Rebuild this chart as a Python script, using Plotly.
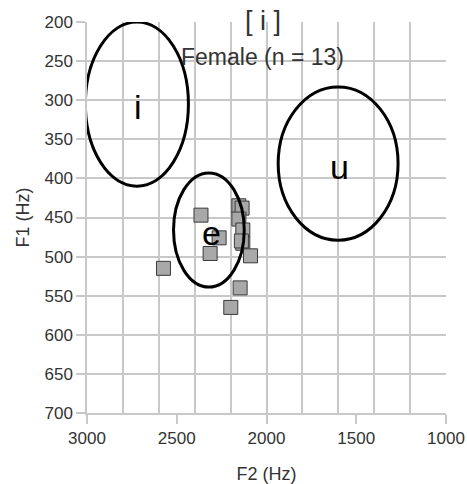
import plotly.graph_objects as go

# Measured formants for the [i] tokens (female speakers)
f2_hz = [2365, 2154, 2136, 2154, 2132, 2132, 2089, 2264, 2314, 2574, 2147, 2199, 2140]
f1_hz = [447, 435, 438, 452, 466, 483, 499, 476, 496, 515, 540, 565, 480]

# Reference vowel regions: centre (F2, F1) and half-widths
vowels = ["i", "e", "u"]
vowel_f2 = [2722, 2321, 1601]
vowel_f1 = [305, 466, 381]
vowel_rf2 = [287, 197, 334]
vowel_rf1 = [105, 73, 98]
label_f2 = [2714, 2304, 1596]
label_f1 = [309, 470, 386]

FONT = "Liberation Sans, Arial, sans-serif"
GRID = "#c8c8c8"
TXT = "#333333"

fig = go.Figure()
fig.add_trace(go.Scatter(
    x=f2_hz, y=f1_hz, mode="markers",
    marker=dict(symbol="square", size=14, color="#a8a8a8",
                line=dict(color="#3a3a3a", width=1)),
    showlegend=False, hoverinfo="x+y",
))

shapes = []
for cx, cy, rx, ry in zip(vowel_f2, vowel_f1, vowel_rf2, vowel_rf1):
    shapes.append(dict(type="circle", xref="x", yref="y",
                       x0=cx - rx, x1=cx + rx, y0=cy - ry, y1=cy + ry,
                       line=dict(color="black", width=3), layer="above"))

annotations = []
for v, lx, ly in zip(vowels, label_f2, label_f1):
    annotations.append(dict(x=lx, y=ly, xref="x", yref="y", text=v,
                            showarrow=False, font=dict(size=34, color="black", family=FONT)))
annotations.append(dict(x=0.49, y=1.0, xref="paper", yref="paper", text="[ i ]",
                        showarrow=False, yanchor="middle", yshift=1,
                        font=dict(size=27, color=TXT, family=FONT)))
annotations.append(dict(x=0.49, y=0.91, xref="paper", yref="paper", text="Female (n = 13)",
                        showarrow=False, yanchor="middle",
                        font=dict(size=23, color=TXT, family=FONT)))

fig.update_layout(
    width=467, height=484,
    margin=dict(l=87, r=21, t=22, b=71),
    paper_bgcolor="white", plot_bgcolor="white",
    font=dict(family=FONT, size=17, color=TXT),
    shapes=shapes, annotations=annotations,
    xaxis=dict(
        range=[3000, 1000], tickvals=[3000, 2500, 2000, 1500, 1000],
        showgrid=False, ticks="outside", ticklen=9, tickcolor=GRID, tickwidth=1.5,
        showline=True, linecolor=GRID, linewidth=1.5, zeroline=False, automargin=False,
        minor=dict(dtick=200, tick0=1000, showgrid=True, gridcolor=GRID, gridwidth=1.5, ticks=""),
        title=dict(text="F2 (Hz)", font=dict(size=18, color=TXT), standoff=21),
        tickfont=dict(size=17, color=TXT),
    ),
    yaxis=dict(
        range=[700, 200], dtick=50, tick0=200,
        showgrid=True, gridcolor=GRID, gridwidth=1.5,
        ticks="outside", ticklen=9, tickcolor=GRID, tickwidth=1.5,
        showline=True, linecolor=GRID, linewidth=1.5, zeroline=False, automargin=False,
        title=dict(text="F1 (Hz)", font=dict(size=18, color=TXT), standoff=10),
        tickfont=dict(size=17, color=TXT),
    ),
)

fig.write_html("out.html")
